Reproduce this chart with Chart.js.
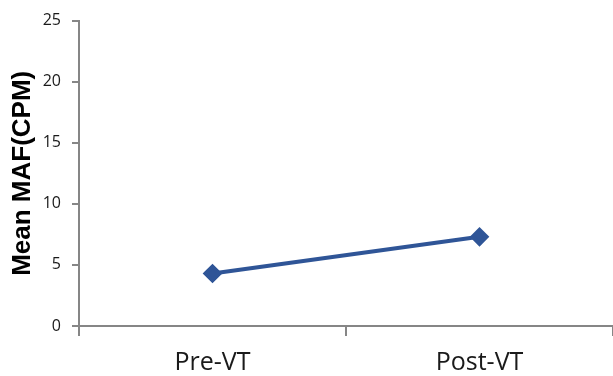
<!DOCTYPE html>
<html>
<head>
<meta charset="utf-8">
<script src="https://cdn.jsdelivr.net/npm/chart.js@4"></script>
<style>
  html, body { margin: 0; padding: 0; background: #fff; }
  #wrap { width: 613px; height: 376px; }
</style>
</head>
<body>
<div id="wrap"><canvas id="mafChart" width="613" height="376"></canvas></div>
<script>
const categories = ['Pre-VT', 'Post-VT'];
const meanMaf = [4.3, 7.3];
const yTicks = [0, 5, 10, 15, 20, 25];

const axisGray = '#868686';

const ctx = document.getElementById('mafChart').getContext('2d');
const chart = new Chart(ctx, {
    type: 'line',
    data: {
        labels: categories,
        datasets: [{
            label: 'Mean MAF',
            data: meanMaf,
            borderColor: '#2F5597',
            backgroundColor: '#2F5597',
            borderWidth: 4,
            pointStyle: 'rectRot',
            pointRadius: 7,
            pointHoverRadius: 7,
            fill: false,
            tension: 0
        }]
    },
    options: {
        responsive: false,
        animation: false,
        // no extra room for the markers, axis runs to the right edge
        layout: { autoPadding: false, padding: { top: 19, right: 0 } },
        plugins: {
            legend: { display: false },
            tooltip: { enabled: false }
        },
        scales: {
            x: {
                offset: true,
                grid: {
                    offset: true,
                    drawOnChartArea: false,
                    drawTicks: true,
                    tickLength: 10,
                    color: axisGray,
                    lineWidth: 2
                },
                border: { color: axisGray, width: 2 },
                ticks: {
                    color: '#1a1a1a',
                    font: { family: 'Open Sans', size: 25 },
                    padding: 12
                },
                afterFit: scale => { scale.height = 50; }
            },
            y: {
                min: 0,
                max: 25,
                afterBuildTicks: scale => {
                    scale.ticks = yTicks.map(v => ({ value: v }));
                },
                grid: {
                    drawOnChartArea: false,
                    drawTicks: true,
                    tickLength: 7,
                    color: axisGray,
                    lineWidth: 2
                },
                border: { color: axisGray, width: 2 },
                ticks: {
                    color: '#1a1a1a',
                    font: { family: 'Open Sans', size: 16 },
                    padding: 11
                },
                title: {
                    display: true,
                    text: 'Mean MAF(CPM)',
                    color: '#000',
                    font: { family: 'Liberation Sans', size: 26, weight: 'bold' },
                    padding: { top: 7, bottom: 0 }
                },
                afterFit: scale => { scale.width = 79; }
            }
        }
    }
});
</script>
</body>
</html>
